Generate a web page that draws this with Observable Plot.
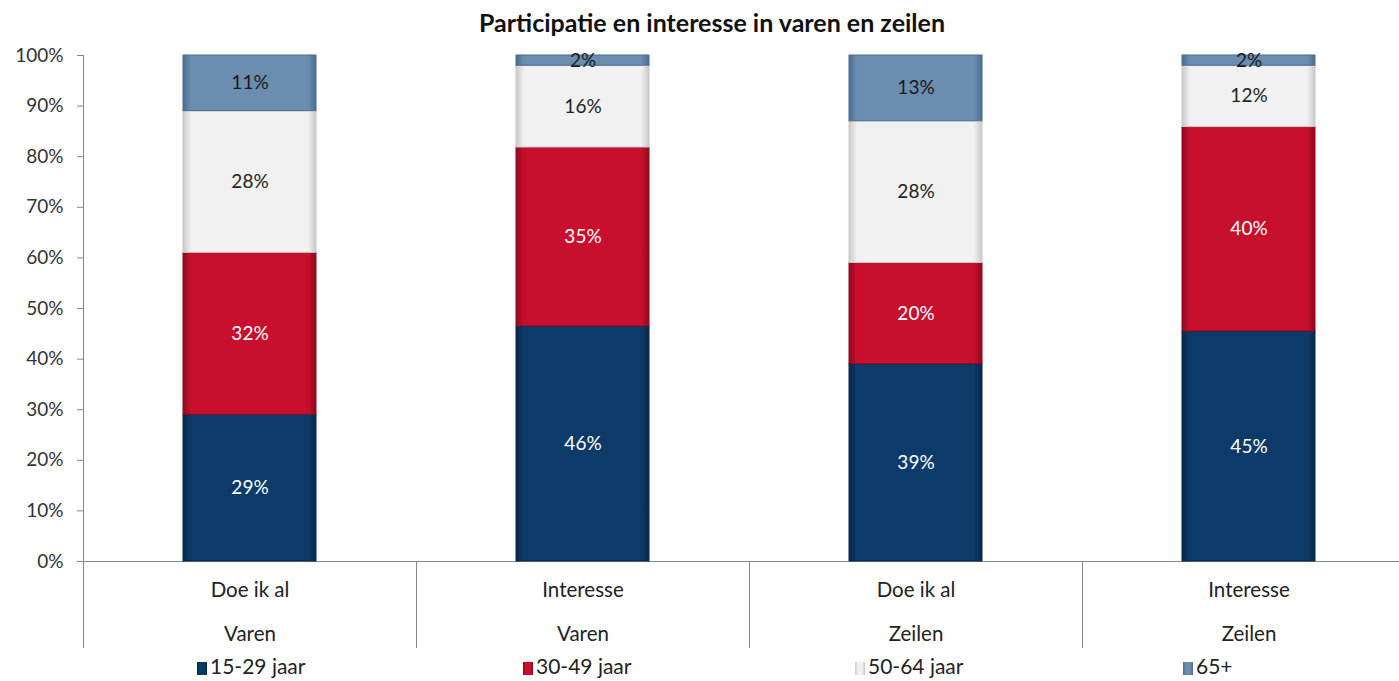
<!DOCTYPE html>
<html>
<head>
<meta charset="utf-8">
<script src="https://cdn.jsdelivr.net/npm/d3@7"></script>
<script src="https://cdn.jsdelivr.net/npm/@observablehq/plot@0.6"></script>
<style>
  body { margin: 0; background: #fff; font-family: Lato, "Open Sans", sans-serif; }
  #wrap { position: relative; width: 1399px; height: 681px; overflow: hidden; }
  #title { position: absolute; left: 0; top: 6px; width: 1424px; text-align: center; font-weight: bold; font-size: 25px; color: #111; line-height: 32px; }
  #chart { position: absolute; left: 0; top: 40px; }
  #legend { position: absolute; left: 0; top: 653px; width: 1399px; height: 26px; }
  .item { position: absolute; top: 0; font-size: 21px; color: #222; line-height: 26px; white-space: nowrap; }
  .sw { display: inline-block; width: 10px; height: 13px; margin-right: 3px; vertical-align: -1px; }
</style>
</head>
<body>
<div id="wrap">
  <div id="title">Participatie en interesse in varen en zeilen</div>
  <div id="chart"></div>
  <div id="legend"></div>
</div>
<script>
// Categories (two-line labels)
const activities = ["Doe ik al", "Interesse", "Doe ik al", "Interesse"];
const sports = ["Varen", "Varen", "Zeilen", "Zeilen"];
const categories = ["Doe ik al|Varen", "Interesse|Varen", "Doe ik al|Zeilen", "Interesse|Zeilen"];
// Series (age groups)
const ageGroups = ["15-29 jaar", "30-49 jaar", "50-64 jaar", "65+"];
// Values in %, per category
const v15_29 = [29, 46, 39, 45];
const v30_49 = [32, 35, 20, 40];
const v50_64 = [28, 16, 28, 12];
const v65plus = [11, 2, 13, 2];
const yTicks = [0, 0.1, 0.2, 0.3, 0.4, 0.5, 0.6, 0.7, 0.8, 0.9, 1];

const seriesValues = [v15_29, v30_49, v50_64, v65plus];
const colors = ["#0d3b69", "#c8102e", "#f1f1f1", "#6a8db0"];
const edgeColors = ["#06284a", "#8e0a1f", "#c9c9c9", "#4a6d90"];
const textColors = ["#ffffff", "#ffffff", "#222222", "#1a1a1a"];

const data = [];
categories.forEach((c, i) => {
  ageGroups.forEach((g, j) => {
    data.push({cat: c, group: g, value: seriesValues[j][i]});
  });
});

const width = 1399, height = 610;
const marginLeft = 83, marginTop = 15, marginBottom = 89, marginRight = 0;
const xRange = [83, 1415];
const step = (xRange[1] - xRange[0]) / categories.length;

const stackOpts = {x: "cat", y: "value", z: "group", order: ageGroups, offset: "normalize"};

const plot = Plot.plot({
  width, height, marginLeft, marginTop, marginBottom, marginRight,
  style: {fontFamily: "Lato, 'Open Sans', sans-serif", fontSize: "19px", color: "#333", background: "transparent", overflow: "visible"},
  x: {domain: categories, range: xRange, paddingInner: 0.6, paddingOuter: 0.3, axis: null},
  y: {domain: [0, 1], axis: null},
  color: {domain: ageGroups, range: ageGroups.map((g, i) => `url(#grad${i})`)},
  marks: [
    Plot.axisY({ticks: yTicks, tickFormat: d3.format(".0%"), tickSize: 6, tickPadding: 14, stroke: "#888", fontSize: 19, color: "#333", label: null}),
    Plot.frame({anchor: "left", stroke: "#888"}),
    Plot.ruleY([0], {stroke: "#888"}),
    Plot.ruleX(categories, {x: d => d, dx: -step / 2, y1: 0, y2: 0, insetBottom: -87, stroke: "#888"}),
    Plot.barY(data, Plot.stackY({...stackOpts, fill: "group", stroke: d => edgeColors[ageGroups.indexOf(d.group)], strokeWidth: 1})),
    Plot.text(data, Plot.stackY({...stackOpts,
      text: d => d.value + "%",
      fill: d => textColors[ageGroups.indexOf(d.group)],
      fontWeight: d => ageGroups.indexOf(d.group) < 2 ? "bold" : "normal",
      fontSize: 19
    })),
    Plot.text(categories, {x: d => d, y: 0, text: (d, i) => activities[i] + "\n" + sports[i],
      lineAnchor: "middle", dy: 43, lineHeight: 2.15, fontSize: 20.5, fill: "#222"})
  ]
});

// gradients to mimic the bevelled bars
const ns = "http://www.w3.org/2000/svg";
const defs = document.createElementNS(ns, "defs");
colors.forEach((c, i) => {
  const g = document.createElementNS(ns, "linearGradient");
  g.setAttribute("id", "grad" + i);
  g.setAttribute("x1", "0"); g.setAttribute("x2", "1"); g.setAttribute("y1", "0"); g.setAttribute("y2", "0");
  [[0, edgeColors[i]], [0.06, c], [0.94, c], [1, edgeColors[i]]].forEach(([o, col]) => {
    const s = document.createElementNS(ns, "stop");
    s.setAttribute("offset", o);
    s.setAttribute("stop-color", col);
    g.appendChild(s);
  });
  defs.appendChild(g);
});
plot.insertBefore(defs, plot.firstChild);
document.getElementById("chart").appendChild(plot);

// legend
const legendX = [197, 523, 855, 1183];
const legend = document.getElementById("legend");
ageGroups.forEach((g, i) => {
  const item = document.createElement("div");
  item.className = "item";
  item.style.left = legendX[i] + "px";
  item.innerHTML = `<span class="sw" style="background:linear-gradient(90deg, ${edgeColors[i]}, ${colors[i]} 30%, ${colors[i]} 70%, ${edgeColors[i]})"></span>${g}`;
  legend.appendChild(item);
});
</script>
</body>
</html>
